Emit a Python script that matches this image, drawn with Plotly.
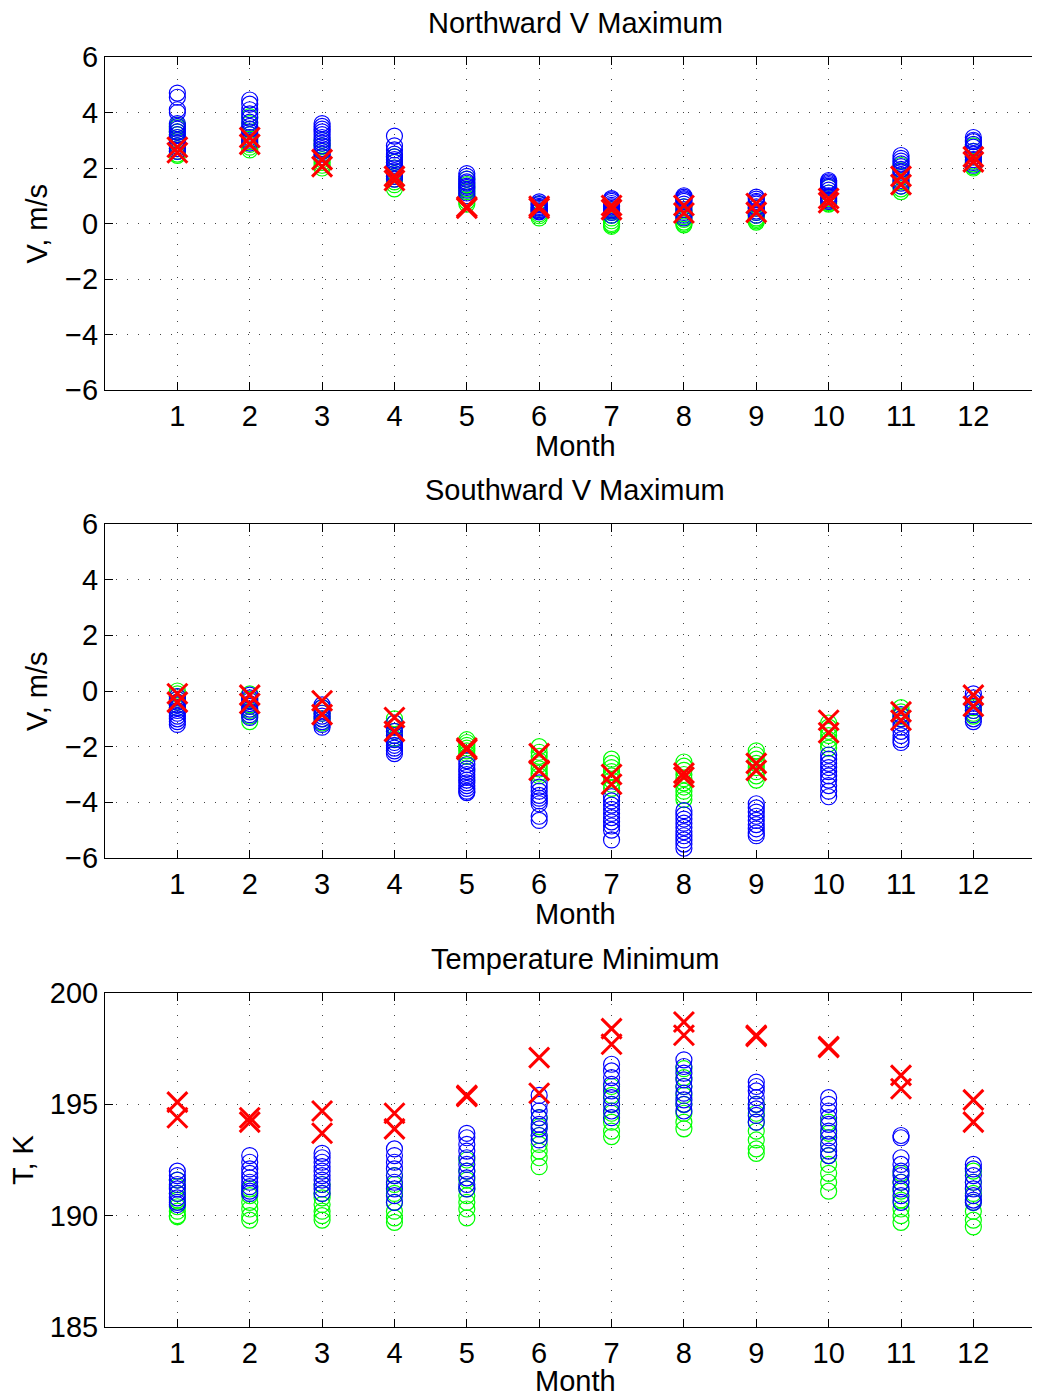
import plotly.graph_objects as go

months = [1, 2, 3, 4, 5, 6, 7, 8, 9, 10, 11, 12]

# ---------------- Northward V maximum (m/s) ----------------
north_blue = [
    [4.7, 4.55, 4.1, 4.0, 3.6, 3.5, 3.4, 3.3, 3.2, 3.1, 3.0, 2.9, 2.8, 2.7, 2.6],
    [4.45, 4.3, 4.1, 3.95, 3.8, 3.65, 3.5, 3.4, 3.3, 3.2, 3.1, 3.0, 2.9],
    [3.6, 3.5, 3.4, 3.3, 3.2, 3.1, 3.0, 2.9, 2.8, 2.7, 2.6, 2.5, 2.4],
    [3.15, 2.8, 2.65, 2.5, 2.4, 2.3, 2.2, 2.1, 2.0, 1.9, 1.8, 1.7, 1.6],
    [1.8, 1.7, 1.6, 1.5, 1.45, 1.35, 1.3, 1.2, 1.1, 1.0],
    [0.78, 0.72, 0.68, 0.62, 0.58, 0.55, 0.5, 0.45, 0.42],
    [0.9, 0.85, 0.8, 0.72, 0.65, 0.6, 0.55, 0.5, 0.45, 0.4, 0.3],
    [1.0, 0.95, 0.9, 0.85, 0.8, 0.7, 0.6, 0.5, 0.4, 0.3, 0.2],
    [0.95, 0.88, 0.8, 0.75, 0.7, 0.6, 0.55, 0.45, 0.4, 0.3],
    [1.55, 1.5, 1.45, 1.4, 1.35, 1.3, 1.2, 1.1, 1.0, 0.95, 0.85, 0.8],
    [2.45, 2.35, 2.25, 2.15, 2.05, 1.95, 1.85, 1.75, 1.65, 1.55, 1.45, 1.35],
    [3.1, 3.0, 2.95, 2.85, 2.75, 2.6, 2.5, 2.4, 2.3, 2.2, 2.1],
]
north_green = [
    [3.55, 3.45, 3.3, 3.2, 3.1, 3.0, 2.9, 2.8, 2.7, 2.6, 2.5, 2.45],
    [3.85, 3.6, 3.4, 3.2, 3.05, 2.95, 2.85, 2.75, 2.65],
    [3.0, 2.8, 2.6, 2.4, 2.3, 2.2, 2.1, 2.0],
    [2.4, 2.2, 2.0, 1.8, 1.7, 1.6, 1.5, 1.4, 1.25],
    [1.6, 1.4, 1.25, 1.15, 1.0, 0.9, 0.8, 0.7],
    [0.7, 0.55, 0.45, 0.35, 0.28, 0.2],
    [0.5, 0.4, 0.3, 0.2, 0.1, 0.0, -0.05, -0.1],
    [0.6, 0.45, 0.35, 0.25, 0.15, 0.05, 0.0, -0.05],
    [0.55, 0.4, 0.3, 0.2, 0.15, 0.1, 0.05],
    [1.3, 1.1, 0.9, 0.8, 0.75, 0.7],
    [2.1, 1.9, 1.7, 1.5, 1.35, 1.25, 1.15],
    [2.8, 2.6, 2.4, 2.25, 2.15, 2.05, 2.0],
]
north_red = [
    [2.75, 2.55], [3.1, 2.85], [2.3, 2.05], [1.7, 1.55], [0.6, 0.55], [0.62, 0.55],
    [0.65, 0.5], [0.65, 0.38], [0.72, 0.4], [0.9, 0.75], [1.7, 1.4], [2.4, 2.22],
]

# ---------------- Southward V maximum (m/s) ----------------
south_blue = [
    [-0.2, -0.3, -0.4, -0.5, -0.6, -0.7, -0.8, -0.9, -1.0, -1.1, -1.2],
    [-0.15, -0.25, -0.35, -0.45, -0.55, -0.65, -0.75, -0.85, -0.95],
    [-0.5, -0.6, -0.7, -0.8, -0.9, -1.0, -1.1, -1.2, -1.3],
    [-1.15, -1.3, -1.45, -1.6, -1.75, -1.85, -1.95, -2.05, -2.15, -2.25],
    [-2.5, -2.65, -2.8, -2.9, -3.0, -3.1, -3.2, -3.3, -3.4, -3.5, -3.6, -3.65],
    [-3.3, -3.45, -3.6, -3.75, -3.85, -3.95, -4.05, -4.5, -4.65],
    [-3.8, -3.95, -4.1, -4.25, -4.4, -4.55, -4.7, -4.85, -5.0, -5.35],
    [-4.3, -4.45, -4.6, -4.75, -4.9, -5.05, -5.2, -5.35, -5.5, -5.65],
    [-4.05, -4.2, -4.35, -4.5, -4.65, -4.8, -4.95, -5.1, -5.2],
    [-2.3, -2.45, -2.6, -2.75, -2.9, -3.05, -3.2, -3.4, -3.6, -3.8],
    [-0.85, -1.0, -1.15, -1.3, -1.45, -1.6, -1.75, -1.85],
    [-0.1, -0.25, -0.4, -0.55, -0.7, -0.85, -1.0, -1.1],
]
south_green = [
    [0.0, -0.1, -0.2, -0.3, -0.4, -0.5, -0.6],
    [-0.1, -0.3, -0.5, -0.7, -0.9, -1.1],
    [-0.6, -0.8, -1.0, -1.15],
    [-1.0, -1.15, -1.3, -1.45, -1.6, -1.7],
    [-1.75, -1.85, -1.95, -2.05, -2.15, -2.25, -2.35],
    [-2.0, -2.2, -2.35, -2.5, -2.65, -2.8, -2.95, -3.05],
    [-2.45, -2.6, -2.75, -2.9, -3.05, -3.2, -3.35, -3.5],
    [-2.55, -2.7, -2.85, -3.0, -3.15, -3.3, -3.45, -3.6, -3.75, -3.9],
    [-2.15, -2.3, -2.45, -2.6, -2.75, -2.9, -3.05, -3.2],
    [-1.15, -1.3, -1.45, -1.6, -1.75, -1.9, -2.05],
    [-0.6, -0.75, -0.9, -1.0],
    [-0.6, -0.7, -0.8, -0.9],
]
south_red = [
    [-0.1, -0.4], [-0.15, -0.45], [-0.35, -0.85], [-0.95, -1.45], [-2.05, -2.1], [-2.25, -2.85],
    [-3.0, -3.35], [-2.95, -3.1], [-2.6, -2.85], [-1.05, -1.5], [-0.75, -1.05], [-0.15, -0.55],
]

# ---------------- Temperature minimum (K) ----------------
temp_blue = [
    [192.0, 191.8, 191.6, 191.4, 191.2, 191.0, 190.8, 190.6, 190.5],
    [192.7, 192.4, 192.1, 191.9, 191.7, 191.5, 191.3, 191.1, 191.0],
    [192.8, 192.6, 192.4, 192.2, 192.0, 191.8, 191.6, 191.4, 191.2, 191.0],
    [193.0, 192.7, 192.4, 192.1, 191.8, 191.5, 191.2, 190.9, 190.6],
    [193.7, 193.5, 193.2, 192.9, 192.6, 192.3, 192.0, 191.7, 191.4, 191.2],
    [195.4, 195.0, 194.7, 194.4, 194.1, 193.9, 193.6, 193.4],
    [196.8, 196.5, 196.2, 195.9, 195.6, 195.3, 195.0, 194.7, 194.4],
    [197.0, 196.7, 196.4, 196.1, 195.8, 195.5, 195.2, 195.0, 194.7],
    [196.0, 195.8, 195.6, 195.3, 195.0, 194.8, 194.5, 194.2],
    [195.3, 195.0, 194.7, 194.4, 194.1, 193.8, 193.5, 193.2, 192.9, 192.7],
    [193.6, 193.5, 192.6, 192.3, 192.0, 191.8, 191.5, 191.2, 190.9, 190.6],
    [192.3, 192.1, 191.8, 191.5, 191.2, 190.9, 190.7, 190.6],
]
temp_green = [
    [191.6, 191.3, 191.0, 190.7, 190.4, 190.2, 190.0, 189.95],
    [191.2, 190.9, 190.6, 190.3, 190.0, 189.8],
    [191.4, 191.0, 190.8, 190.5, 190.2, 190.0, 189.8],
    [191.8, 191.4, 191.0, 190.6, 190.2, 189.9, 189.7],
    [192.5, 192.0, 191.6, 191.2, 190.9, 190.6, 190.3, 189.9],
    [194.4, 194.0, 193.6, 193.2, 192.9, 192.6, 192.2],
    [195.8, 195.4, 195.0, 194.6, 194.2, 193.8, 193.55],
    [196.6, 196.2, 195.8, 195.4, 195.0, 194.6, 194.2, 193.9],
    [195.0, 194.6, 194.2, 193.8, 193.4, 193.0, 192.8],
    [194.2, 193.7, 193.2, 192.7, 192.3, 191.9, 191.5, 191.1],
    [191.9, 191.5, 191.1, 190.7, 190.3, 190.0, 189.7],
    [192.0, 191.5, 191.0, 190.6, 190.2, 189.8, 189.5],
]
temp_red = [
    [195.1, 194.4], [194.4, 194.2], [194.7, 193.7], [194.6, 193.9], [195.4, 195.35], [197.1, 195.5],
    [198.4, 197.7], [198.7, 198.1], [198.1, 198.05], [197.6, 197.55], [196.3, 195.7], [195.2, 194.2],
]

panel_titles = ["Northward V Maximum", "Southward V Maximum", "Temperature Minimum"]
y_titles = ["V, m/s", "V, m/s", "T, K"]
v_ticks = [-6, -4, -2, 0, 2, 4, 6]
t_ticks = [185, 190, 195, 200]

FONT = "Liberation Sans, Arial, Helvetica, sans-serif"
FS = 29

# page offset of the plot div (default body margin)
OFF = 8
W = 1040
H = 1397 - OFF
LEFT = 105 - OFF

# panel pixel geometry (top, bottom) in page pixels
panels_px = [(57, 390), (524, 858), (993, 1327)]
month_title_gap = [56, 56, 54]


def flatten(groups):
    xs, ys = [], []
    for m, vals in zip(months, groups):
        xs.extend([m] * len(vals))
        ys.extend(vals)
    return xs, ys


fig = go.Figure()
datasets = [
    (north_green, north_blue, north_red),
    (south_green, south_blue, south_red),
    (temp_green, temp_blue, temp_red),
]
for i, (g, b, r) in enumerate(datasets):
    xa = "x" if i == 0 else f"x{i + 1}"
    ya = "y" if i == 0 else f"y{i + 1}"
    gx, gy = flatten(g)
    bx, by = flatten(b)
    rx, ry = flatten(r)
    fig.add_trace(go.Scatter(x=gx, y=gy, mode="markers", xaxis=xa, yaxis=ya,
                             marker=dict(symbol="circle-open", size=16, color="#00FF00",
                                         line=dict(width=1.2, color="#00FF00")),
                             showlegend=False))
    fig.add_trace(go.Scatter(x=bx, y=by, mode="markers", xaxis=xa, yaxis=ya,
                             marker=dict(symbol="circle-open", size=16, color="#0000FF",
                                         line=dict(width=1.2, color="#0000FF")),
                             showlegend=False))
    fig.add_trace(go.Scatter(x=rx, y=ry, mode="markers", xaxis=xa, yaxis=ya,
                             marker=dict(symbol="x-thin-open", size=20, color="#FF0000",
                                         line=dict(width=3, color="#FF0000")),
                             showlegend=False))

px_per_month = (973 - 177) / 11.0
PW = W - LEFT
xrange_end = PW / px_per_month

layout = dict(
    width=W, height=H,
    margin=dict(l=LEFT, r=0, t=0, b=0, autoexpand=False),
    paper_bgcolor="white", plot_bgcolor="white",
    font=dict(family=FONT, size=FS, color="black"),
    showlegend=False,
)
annotations = []
for i, (top, bot) in enumerate(panels_px):
    top -= OFF
    bot -= OFF
    sfx = "" if i == 0 else str(i + 1)
    dom = [1 - bot / H, 1 - top / H]
    anchor_y = "y" if i == 0 else f"y{i + 1}"
    anchor_x = "x" if i == 0 else f"x{i + 1}"
    layout["xaxis" + sfx] = dict(
        domain=[0, 1], anchor=anchor_y, range=[0, xrange_end], automargin=False,
        tickmode="array", tickvals=months, ticktext=[str(m) for m in months],
        ticks="inside", ticklen=8, tickcolor="black", tickwidth=1,
        showline=True, linecolor="black", linewidth=1, mirror="ticks",
        showgrid=True, gridcolor="#444444", gridwidth=1, griddash="1px,10px",
        zeroline=False, tickfont=dict(family=FONT, size=FS, color="black"),
        ticklabelstandoff=0,
    )
    if i < 2:
        yr = [-6, 6]
        tv = v_ticks
        tt = ["\u2212" + str(-v) if v < 0 else str(v) for v in v_ticks]
    else:
        yr = [185, 200]
        tv = t_ticks
        tt = [str(v) for v in t_ticks]
    layout["yaxis" + sfx] = dict(
        domain=dom, anchor=anchor_x, range=yr, automargin=False,
        tickmode="array", tickvals=tv, ticktext=tt,
        ticks="inside", ticklen=8, tickcolor="black", tickwidth=1,
        showline=True, linecolor="black", linewidth=1, mirror=False,
        showgrid=True, gridcolor="#444444", gridwidth=1, griddash="1px,10px",
        zeroline=False, tickfont=dict(family=FONT, size=FS, color="black"),
        ticklabelstandoff=0,
    )
    # panel title
    annotations.append(dict(text=panel_titles[i], xref="paper", yref="paper",
                            x=(575 - 105) / PW, y=1 - (top - 34) / H,
                            xanchor="center", yanchor="middle",
                            showarrow=False, font=dict(family=FONT, size=FS, color="black")))
    # x axis title
    annotations.append(dict(text="Month", xref="paper", yref="paper",
                            x=(575 - 105) / PW, y=1 - (bot + month_title_gap[i]) / H,
                            xanchor="center", yanchor="middle",
                            showarrow=False, font=dict(family=FONT, size=FS, color="black")))
    # y axis title
    ytx = 37 if i < 2 else 23
    annotations.append(dict(text=y_titles[i], xref="paper", yref="paper",
                            x=(ytx - 105) / PW, y=1 - ((top + bot) / 2) / H,
                            xanchor="center", yanchor="middle", textangle=-90,
                            showarrow=False, font=dict(family=FONT, size=FS, color="black")))
layout["annotations"] = annotations
fig.update_layout(**layout)

fig.write_html("out.html")
